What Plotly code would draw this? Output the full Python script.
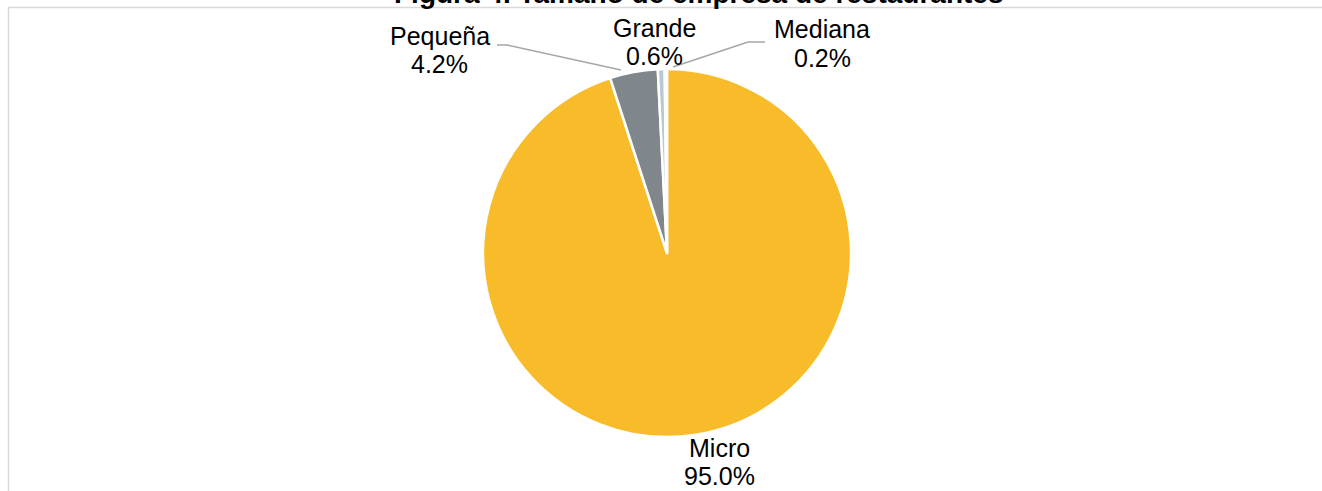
import plotly.graph_objects as go

# Firm size distribution of restaurants (share of establishments, %)
categorias = ["Micro", "Pequeña", "Grande", "Mediana"]
porcentajes = [95.0, 4.2, 0.6, 0.2]
colores = ["#F8BC2B", "#7F878C", "#B7C8D6", "#DCE6EF"]
titulo = "Figura 4. Tamaño de empresa de restaurantes"

W, H = 1322, 491
FONT = "Liberation Sans, Arial"
LABEL_SIZE = 25
TITLE_SIZE = 28


def px(x):
    return x / W


def py(y):
    return 1 - y / H


def centre_from_baseline(b, size):
    # vertical centre of a single text line whose baseline sits at b
    return b - 0.35 * size


# pie geometry in page pixels
cx, cy, r = 667, 253, 184

fig = go.Figure(
    go.Pie(
        labels=categorias,
        values=porcentajes,
        sort=False,
        direction="clockwise",
        rotation=0,
        marker=dict(colors=colores, line=dict(color="#FFFFFF", width=2.5)),
        textinfo="none",
        hoverinfo="label+percent",
        showlegend=False,
        domain=dict(x=[px(cx - r), px(cx + r)], y=[py(cy + r), py(cy - r)]),
    )
)

# label placement: x centre and baselines of the name and value lines
label_pos = {
    "Micro": (719, 457, 485),
    "Pequeña": (440, 44.5, 73),
    "Grande": (654, 37, 65),
    "Mediana": (822, 38, 66.5),
}

annotations = []
for cat, val in zip(categorias, porcentajes):
    x, b1, b2 = label_pos[cat]
    for txt, b in ((cat, b1), (f"{val:.1f}%", b2)):
        annotations.append(
            dict(
                text=txt,
                x=px(x), y=py(centre_from_baseline(b, LABEL_SIZE)),
                xref="paper", yref="paper",
                xanchor="center", yanchor="middle",
                showarrow=False,
                font=dict(family=FONT, size=LABEL_SIZE, color="#000000"),
            )
        )

# chart title, partly above the visible area
annotations.append(
    dict(
        text=f"<b>{titulo}</b>",
        x=px(698), y=py(centre_from_baseline(3, TITLE_SIZE)),
        xref="paper", yref="paper",
        xanchor="center", yanchor="middle",
        showarrow=False,
        font=dict(family=FONT, size=TITLE_SIZE, color="#000000"),
    )
)


def path(points):
    return "M " + " L ".join(f"{px(x)},{py(y)}" for x, y in points)


shapes = [
    # chart area border
    dict(type="rect", xref="paper", yref="paper",
         x0=px(8.5), x1=px(1340), y0=py(7.5), y1=py(520),
         line=dict(color="#D9D9D9", width=1.5), fillcolor="rgba(0,0,0,0)"),
    # leader lines
    dict(type="path", xref="paper", yref="paper",
         path=path([(497, 45), (507, 45), (621, 70)]),
         line=dict(color="#A6A6A6", width=1.5)),
    dict(type="path", xref="paper", yref="paper",
         path=path([(673, 67), (748, 42), (765, 42)]),
         line=dict(color="#A6A6A6", width=1.5)),
]

fig.update_layout(
    width=W, height=H,
    margin=dict(l=0, r=0, t=0, b=0),
    paper_bgcolor="#FFFFFF",
    plot_bgcolor="#FFFFFF",
    annotations=annotations,
    shapes=shapes,
)

fig.write_html("out.html")
